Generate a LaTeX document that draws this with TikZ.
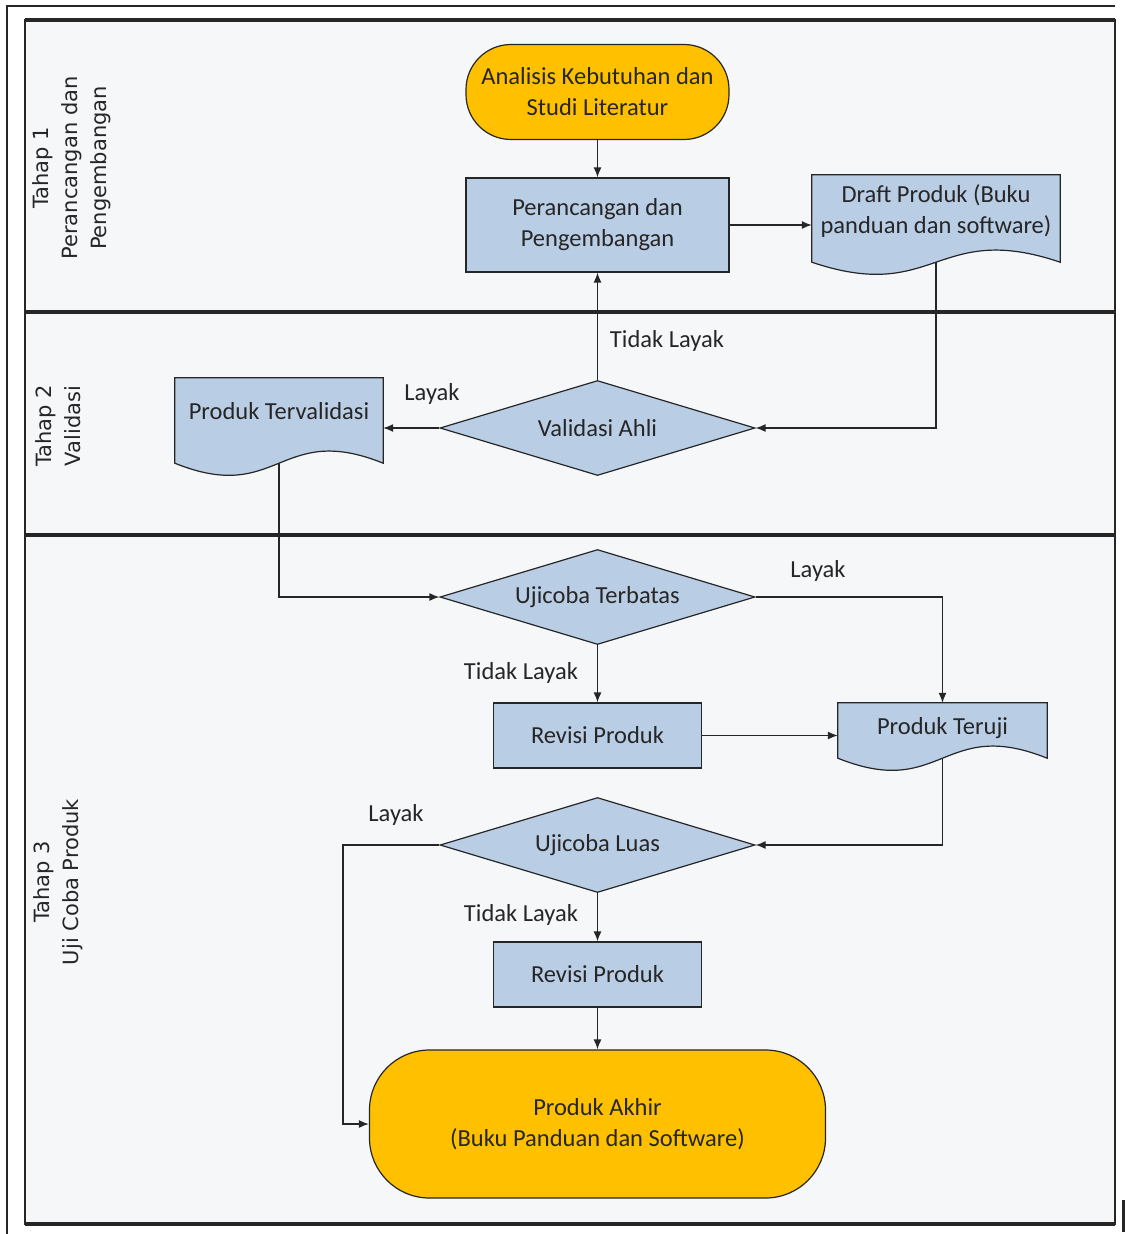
\documentclass[tikz,border=0pt]{standalone}
\usepackage{fontspec}
\setmainfont{Carlito}
\newfontfamily\lanefont{DejaVu Sans}
\usetikzlibrary{shapes.geometric,arrows.meta,positioning}
\pgfdeclarelayer{bg}
\pgfsetlayers{bg,main}
\definecolor{boxblue}{HTML}{B9CDE5}
\definecolor{termorange}{HTML}{FFC000}
\definecolor{lanefill}{HTML}{F6F7F9}
\definecolor{inkline}{HTML}{262626}
\tikzset{
  base/.style={inner sep=2pt,align=center,font=\fontsize{24.5}{31}\selectfont,text=inkline},
  term/.style={base,fill=termorange,draw=inkline,line width=1.2pt},
  procbox/.style={base,rectangle,fill=boxblue,draw=inkline,line width=1.2pt},
  decide/.style={base,diamond,aspect=3.3,fill=boxblue,draw=inkline,line width=1.2pt,
    minimum width=315pt,minimum height=95pt,inner sep=0pt},
  docnode/.style={base,rectangle},
  docbody/.style={fill=boxblue,draw=inkline,line width=1.2pt},
  flow/.style={draw=inkline,line width=1.3pt,-{Latex[length=10pt,width=8pt]}},
  lbl/.style={base},
  lanetitle/.style={rotate=90,align=center,font=\lanefont\fontsize{21}{29}\selectfont,text=inkline},
}
% document symbol with wavy bottom, drawn behind the node text
\newcommand{\docshape}[1]{%
  \path[docbody] (#1.north west) -- (#1.north east) -- (#1.south east)
    .. controls ([yshift=42pt]#1.south) and ([yshift=-42pt]#1.south) .. (#1.south west) -- cycle;}

\begin{document}
\begin{tikzpicture}[x=1pt,y=-1pt]
  \useasboundingbox (0,0) rectangle (1126,1234);

  % frame and lanes
  \draw[line width=1.2pt,inkline] (7,1234) -- (7,6) -- (1115,6);
  \draw[line width=3pt,inkline] (1123,1200) -- (1123,1232);
  \begin{pgfonlayer}{bg}
    \fill[lanefill] (25,20) rectangle (1115,1224);
    \draw[line width=1.2pt,inkline] (25,20) rectangle (1115,1224);
    \foreach \y in {20,312,535,1224}
      \draw[line width=4pt,inkline] (25,\y) -- (1115,\y);
  \end{pgfonlayer}

  \node[lanetitle] (tahapA) at (72,168) {Tahap 1\\Perancangan dan\\Pengembangan};
  \node[lanetitle] (tahapB) at (58,426) {Tahap 2\\Validasi};
  \node[lanetitle] (tahapC) at (58,882) {Tahap 3\\Uji Coba Produk};

  % steps
  \node[term,minimum width=263pt,minimum height=95pt,rounded corners=45pt] (analisis) at (597.5,92) {Analisis Kebutuhan dan\\Studi Literatur};
  \node[procbox,minimum width=263pt,minimum height=94pt] (rancang) at (597.5,225) {Perancangan dan\\Pengembangan};
  \node[docnode,minimum width=248pt,minimum height=87pt,text depth=18pt] (draft) at (936,218.5) {Draft Produk (Buku\\panduan dan software)};
  \node[decide] (validasi) at (597.5,428) {Validasi Ahli};
  \node[docnode,minimum width=208pt,minimum height=85pt,text depth=19pt] (valid) at (279,420.5) {Produk Tervalidasi};
  \node[decide] (terbatas) at (597.5,597) {Ujicoba Terbatas};
  \node[procbox,minimum width=208pt,minimum height=65pt] (revisiA) at (597.5,735.5) {Revisi Produk};
  \node[docnode,minimum width=209pt,minimum height=55pt,text depth=10pt] (teruji) at (942.5,730.5) {Produk Teruji};
  \node[decide] (luas) at (597.5,845) {Ujicoba Luas};
  \node[procbox,minimum width=208pt,minimum height=65pt] (revisiB) at (597.5,974.5) {Revisi Produk};
  \node[term,minimum width=456pt,minimum height=148pt,rounded corners=60pt] (akhir) at (597.5,1124) {Produk Akhir\\(Buku Panduan dan Software)};

  \begin{pgfonlayer}{bg}
    \docshape{draft}
    \docshape{valid}
    \docshape{teruji}
  \end{pgfonlayer}

  % labels
  \node[lbl] (tidakA) at (667,341) {Tidak Layak};
  \node[lbl] (layakA) at (432,394) {Layak};
  \node[lbl] (layakB) at (818,571) {Layak};
  \node[lbl] (tidakB) at (521,673) {Tidak Layak};
  \node[lbl] (layakC) at (396,815) {Layak};
  \node[lbl] (tidakC) at (521,915) {Tidak Layak};

  % connectors
  \coordinate (bend) at (343,845);
  \draw[flow] (analisis) -- (rancang);
  \draw[flow] (rancang.east) -- (rancang.east -| draft.west);
  \draw[flow] (draft.south) |- (validasi.east);
  \draw[flow] (validasi.north) -- (rancang.south);
  \draw[flow] (validasi.west) -- (validasi.west -| valid.east);
  \draw[flow] (valid.south) |- (terbatas.west);
  \draw[flow] (terbatas.east) -| (teruji.north);
  \draw[flow] (terbatas.south) -- (revisiA.north);
  \draw[flow] (revisiA.east) -- (revisiA.east -| teruji.west);
  \draw[flow] (teruji.south) |- (luas.east);
  \draw[flow] (luas.west) -- (bend) |- (akhir.west);
  \draw[flow] (luas.south) -- (revisiB.north);
  \draw[flow] (revisiB.south) -- (akhir.north);
\end{tikzpicture}
\end{document}
